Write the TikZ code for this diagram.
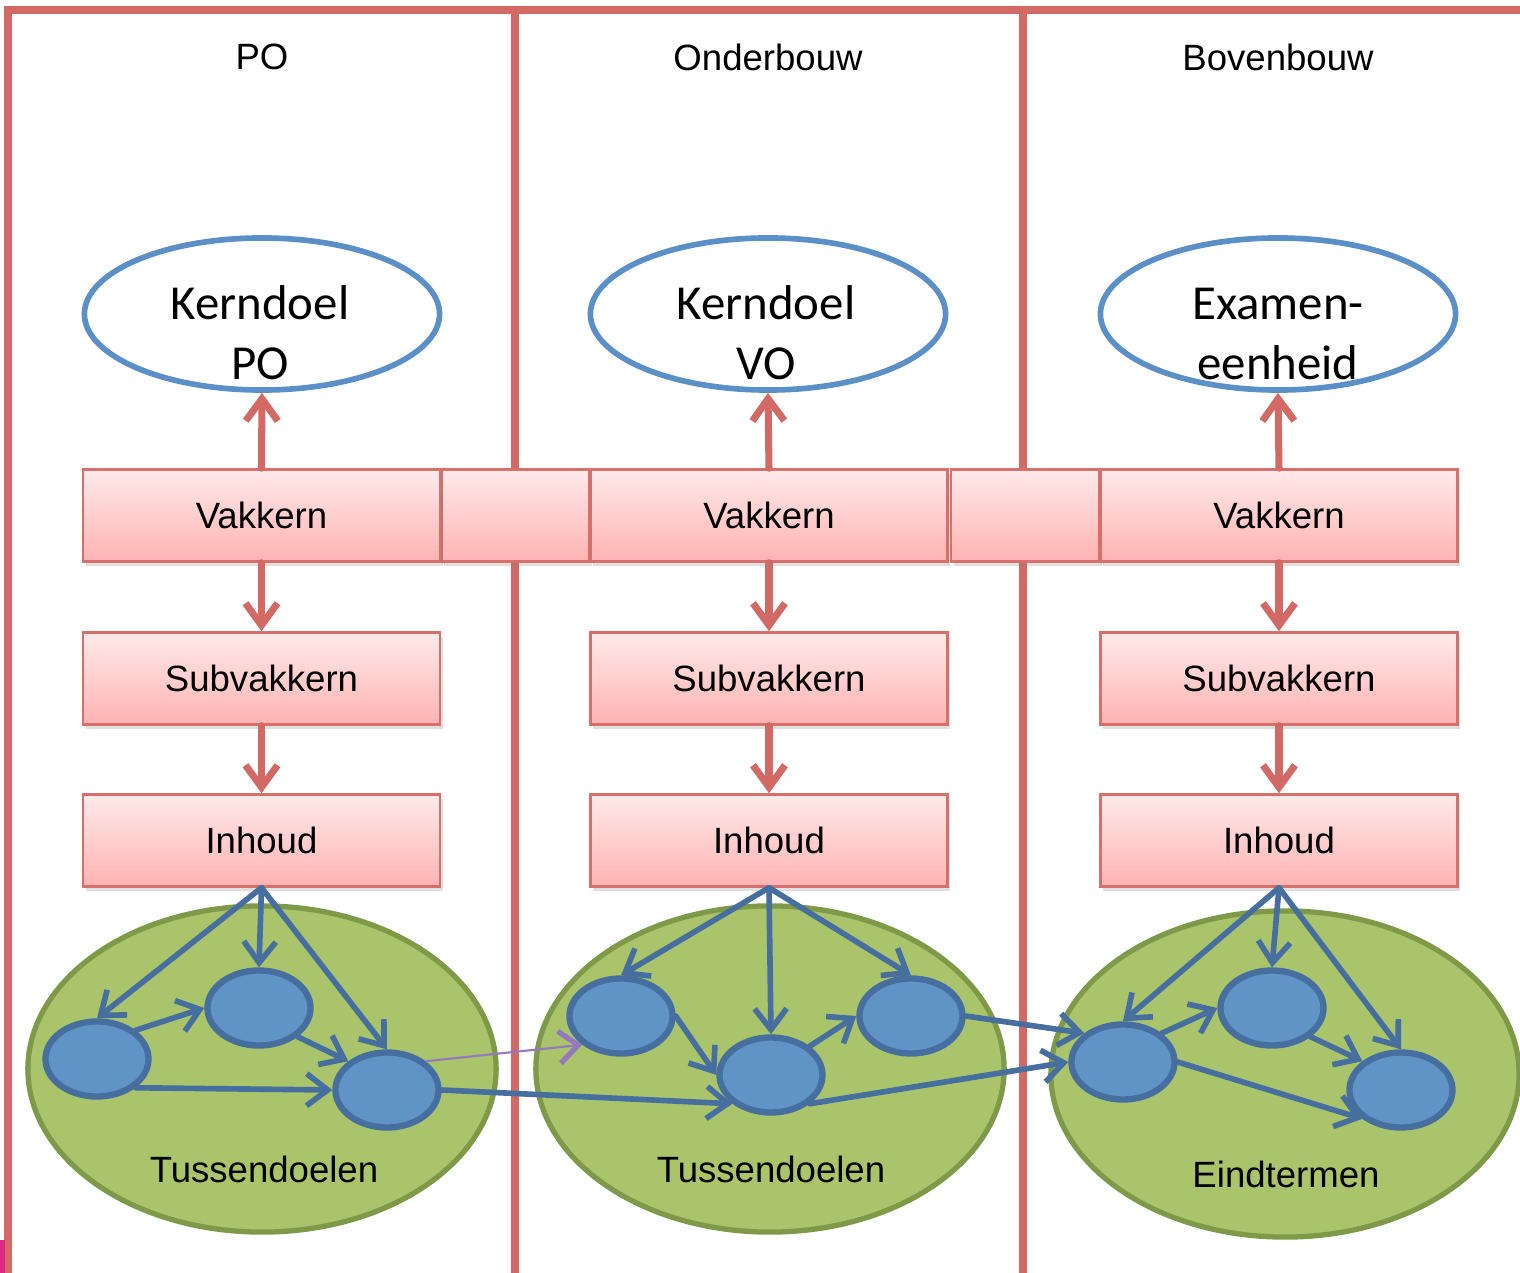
\documentclass[tikz,border=0pt]{standalone}
\usepackage{fontspec}
\setmainfont{Liberation Sans}
\newfontfamily\kernfont{Carlito}
\usetikzlibrary{arrows.meta,shapes.geometric,shadows}

\definecolor{kaderrood}{RGB}{210,105,100}
\definecolor{boxrand}{RGB}{215,112,106}
\definecolor{roze1}{RGB}{255,234,234}
\definecolor{roze2}{RGB}{255,178,178}
\definecolor{kernblauw}{RGB}{91,143,199}
\definecolor{groen}{RGB}{169,196,107}
\definecolor{groenrand}{RGB}{126,153,72}
\definecolor{doelblauw}{RGB}{96,148,199}
\definecolor{pijlblauw}{RGB}{70,111,160}
\definecolor{paars}{RGB}{150,120,190}
\definecolor{magenta}{RGB}{220,40,130}

\begin{document}
\begin{tikzpicture}[x=0.01cm, y=-0.01cm,
    kop/.style={font=\fontsize{10.4}{12}\selectfont},
    kern/.style={draw=kernblauw, line width=1.6pt, ellipse, minimum width=3.55cm, minimum height=1.52cm},
    kerntekst/.style={align=center, font=\kernfont\fontsize{13.9}{17.1}\selectfont},
    laag/.style={draw=boxrand, line width=0.7pt, top color=roze1, bottom color=roze2,
        minimum width=3.57cm, minimum height=0.92cm, inner sep=0pt, font=\fontsize{10.4}{12}\selectfont,
        drop shadow={shadow xshift=0.8pt, shadow yshift=-1.2pt, opacity=0.25}},
    brug/.style={laag, minimum width=1.48cm},
    cluster/.style={draw=groenrand, fill=groen, line width=1.5pt, ellipse, minimum width=4.68cm, minimum height=3.26cm},
    doel/.style={draw=pijlblauw, fill=doelblauw, line width=1.8pt, ellipse, minimum width=1.03cm, minimum height=0.75cm},
    rood/.style={draw=kaderrood, line width=2pt, line cap=round, -{Straight Barb[length=2.2mm,width=3.2mm]}},
    blauw/.style={draw=pijlblauw, line width=1.6pt, line cap=round, -{Straight Barb[length=2.1mm,width=3.2mm]}},
    paarspijl/.style={draw=paars, line width=0.6pt, -{Straight Barb[length=1.9mm,width=3.2mm,line width=1.5pt]}}
    ]
    \useasboundingbox (0,0) rectangle (1520,1273);

    % Kolommen
    \draw[kaderrood, line width=2pt] (8,1273) -- (8,10) -- (515,10) -- (515,1273);
    \draw[kaderrood, line width=2pt] (515,10) -- (1023,10) -- (1023,1273);
    \draw[kaderrood, line width=2pt] (1023,10) -- (1520,10);
    \fill[magenta] (0,1240) rectangle (5,1273);

    % Koppen
    \node[kop] (kop1) at (262,57) {PO};
    \node[kop] (kop2) at (768,57) {Onderbouw};
    \node[kop] (kop3) at (1278,57) {Bovenbouw};

    % Kerndoelen en examen
    \node[kern] (kd1) at (262,314) {};
    \node[kern] (kd2) at (768,314) {};
    \node[kern] (kd3) at (1278,314) {};
    \node[kerntekst] (kt1) at (260,333) {Kerndoel\\PO};
    \node[kerntekst] (kt2) at (766,333) {Kerndoel\\VO};
    \node[kerntekst] (kt3) at (1278,334) {Examen-\\eenheid};

    % Vakkern rij
    \node[brug] (brug1) at (515.5,515.5) {};
    \node[brug] (brug2) at (1025,515.5) {};
    \node[laag] (vk1) at (261.5,515.5) {Vakkern};
    \node[laag] (vk2) at (769,515.5) {Vakkern};
    \node[laag] (vk3) at (1279,515.5) {Vakkern};

    % Subvakkern en inhoud
    \node[laag] (svk1) at (261.5,678.5) {Subvakkern};
    \node[laag] (svk2) at (769,678.5) {Subvakkern};
    \node[laag] (svk3) at (1279,678.5) {Subvakkern};
    \node[laag] (inh1) at (261.5,840.5) {Inhoud};
    \node[laag] (inh2) at (769,840.5) {Inhoud};
    \node[laag] (inh3) at (1279,840.5) {Inhoud};

    % Rode pijlen
    \draw[rood] (vk1.north) -- (kd1.south);
    \draw[rood] (vk2.north) -- (kd2.south);
    \draw[rood] (vk3.north) -- (kd3.south);
    \draw[rood] (vk1.south) -- (svk1.north);
    \draw[rood] (vk2.south) -- (svk2.north);
    \draw[rood] (vk3.south) -- (svk3.north);
    \draw[rood] (svk1.south) -- (inh1.north);
    \draw[rood] (svk2.south) -- (inh2.north);
    \draw[rood] (svk3.south) -- (inh3.north);

    % Groene velden
    \node[cluster] (veld1) at (262,1069) {};
    \node[cluster] (veld2) at (770,1069) {};
    \node[cluster] (veld3) at (1285,1074) {};
    \node[kop] (naam1) at (264,1169) {Tussendoelen};
    \node[kop] (naam2) at (771,1169) {Tussendoelen};
    \node[kop] (naam3) at (1286,1174) {Eindtermen};

    % Doelen
    \node[doel] (la) at (97,1059) {};
    \node[doel] (lb) at (259,1008) {};
    \node[doel] (lc) at (387,1090) {};
    \node[doel] (ma) at (621,1016) {};
    \node[doel] (mb) at (771,1075) {};
    \node[doel] (mc) at (911,1016) {};
    \node[doel] (ra) at (1123,1062) {};
    \node[doel] (rb) at (1272,1008) {};
    \node[doel] (rc) at (1401,1090) {};

    % Blauwe pijlen PO
    \draw[blauw] (inh1.south) -- (la.north);
    \draw[blauw] (inh1.south) -- (lb.north);
    \draw[blauw] (inh1.south) -- (lc.north);
    \draw[blauw] (la.north east) -- (lb.west);
    \draw[blauw] (lb.south east) -- (lc.north west);
    \draw[blauw] (la.south east) -- (lc.west);

    % Blauwe pijlen onderbouw
    \draw[blauw] (inh2.south) -- (ma.north);
    \draw[blauw] (inh2.south) -- (mb.north);
    \draw[blauw] (inh2.south) -- (mc.north);
    \draw[blauw] (ma.east) -- (mb.west);
    \draw[blauw] (mb.north east) -- (mc.west);

    % Blauwe pijlen bovenbouw
    \draw[blauw] (inh3.south) -- (ra.north);
    \draw[blauw] (inh3.south) -- (rb.north);
    \draw[blauw] (inh3.south) -- (rc.north);
    \draw[blauw] (ra.north east) -- (rb.west);
    \draw[blauw] (rb.south east) -- (rc.north west);
    \draw[blauw] (ra.east) -- (rc.south west);

    % Tussen de kolommen
    \draw[blauw] (lc.east) -- (mb.south west);
    \draw[paarspijl] (lc.north east) -- (ma.south west);
    \draw[blauw] (mc.east) -- (ra.north west);
    \draw[blauw] (mb.south east) -- (ra.west);
\end{tikzpicture}
\end{document}
